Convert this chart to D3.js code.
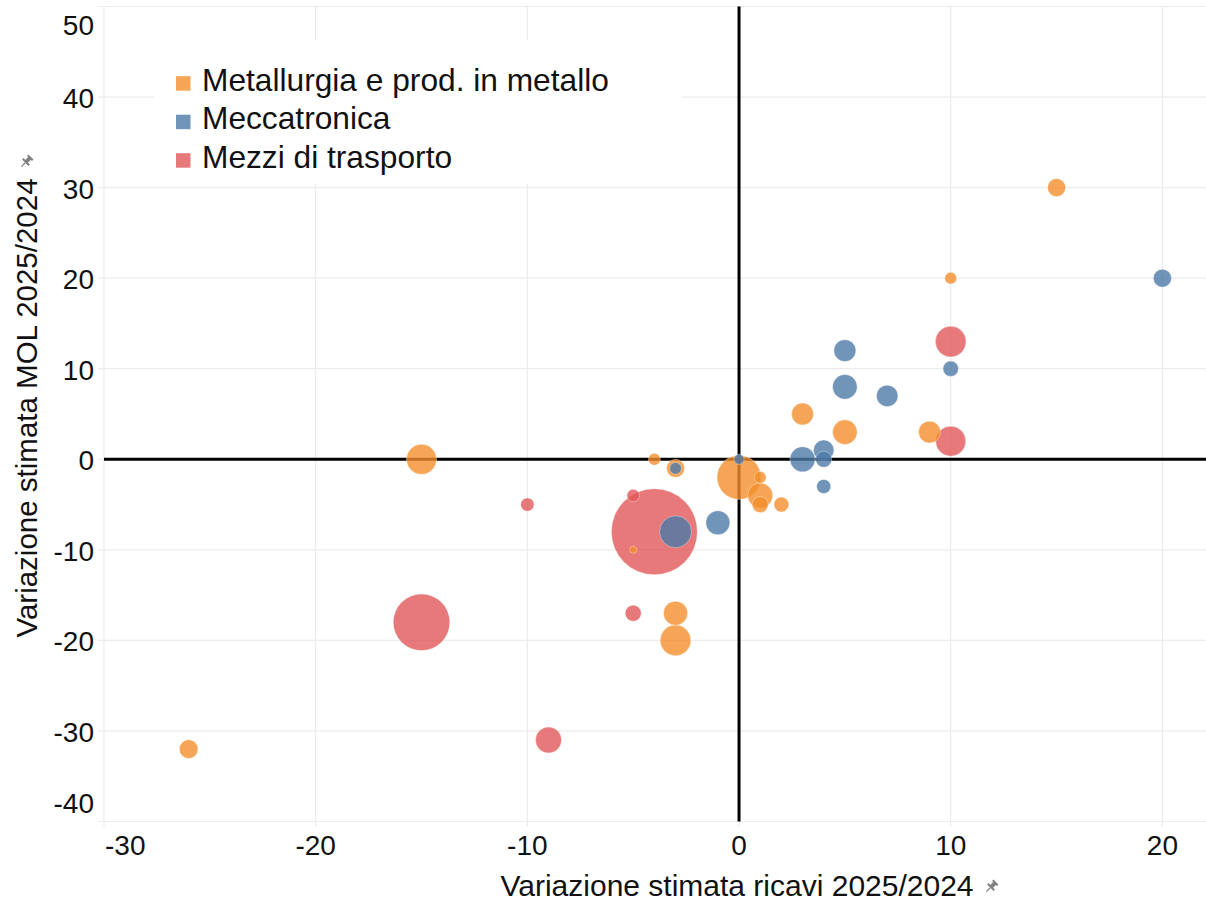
<!DOCTYPE html>
<html>
<head>
<meta charset="utf-8">
<script src="https://cdn.jsdelivr.net/npm/d3@7"></script>
<style>
  html, body { margin: 0; padding: 0; background: #ffffff; }
  svg { display: block; font-family: Arial, "Liberation Sans", sans-serif; }
</style>
</head>
<body>
<svg id="chart" width="1206" height="903"></svg>
<script>
// ---------- data ----------
const categories = ["Metallurgia e prod. in metallo", "Meccatronica", "Mezzi di trasporto"];
const colors = ["#F28E2B", "#4E79A7", "#E15759"];

const xTicks = [-30, -20, -10, 0, 10, 20];
const yTicks = [-40, -30, -20, -10, 0, 10, 20, 30, 40, 50];

// Metallurgia e prod. in metallo
const metRicavi = [15, 10, 3, 5, 9, -15, -4, -3, 0, 1, 1, 1, 2, -5, -3, -3, -26];
const metMol    = [30, 20, 5, 3, 3, 0, 0, -1, -2, -2, -4, -5, -5, -10, -17, -20, -32];
const metPeso   = [4.4, 1.9, 6.5, 8.2, 6.5, 12.2, 1.9, 4.4, 26.2, 1.9, 8.5, 3.5, 3.0, 0.7, 7.8, 12.7, 4.7];

// Meccatronica
const mecRicavi = [20, 5, 10, 5, 7, 4, 3, 4, 0, 4, -3, -1, -3];
const mecMol    = [20, 12, 10, 8, 7, 1, 0, 0, 0, -3, -1, -7, -8];
const mecPeso   = [4.4, 6.5, 3.2, 8.2, 6.2, 5.7, 8.5, 3.5, 1.4, 2.7, 1.9, 7.8, 13.8];

// Mezzi di trasporto
const mezRicavi = [10, 10, -5, -10, -4, -15, -5, -9];
const mezMol    = [13, 2, -4, -5, -8, -18, -17, -31];
const mezPeso   = [12.7, 12.2, 2.1, 2.4, 100, 43.3, 3.5, 9.1];

const xTitle = "Variazione stimata ricavi 2025/2024";
const yTitle = "Variazione stimata MOL 2025/2024";

// ---------- build records ----------
const seriesList = [
  [metRicavi, metMol, metPeso],
  [mecRicavi, mecMol, mecPeso],
  [mezRicavi, mezMol, mezPeso]
];
const points = [];
seriesList.forEach((s, ci) => {
  s[0].forEach((v, i) => points.push({ cat: ci, x: v, y: s[1][i], size: s[2][i] }));
});
points.sort((a, b) => b.size - a.size);

// ---------- layout ----------
const svg = d3.select("#chart");
const W = 1206, H = 903;
const plot = { left: 104, right: 1206, top: 6.5, bottom: 821.5 };

const x = d3.scaleLinear().domain([-30, 22.06]).range([plot.left, plot.right]);
const y = d3.scaleLinear().domain([-40, 50]).range([plot.bottom, plot.top]);
const r = d3.scaleSqrt().domain([0, 100]).range([0, 43]);
const color = d3.scaleOrdinal().domain(d3.range(categories.length)).range(colors);

svg.append("rect").attr("width", W).attr("height", H).attr("fill", "#ffffff");

const gridColor = "#ececec";

// horizontal grid
svg.append("g").selectAll("line").data(yTicks).join("line")
  .attr("x1", plot.left - 6).attr("x2", plot.right)
  .attr("y1", d => y(d)).attr("y2", d => y(d))
  .attr("stroke", gridColor).attr("stroke-width", 1.2);

// vertical grid
svg.append("g").selectAll("line").data(xTicks).join("line")
  .attr("x1", d => x(d)).attr("x2", d => x(d))
  .attr("y1", plot.top).attr("y2", plot.bottom + 5)
  .attr("stroke", gridColor).attr("stroke-width", 1.2);

// y tick labels
svg.append("g").selectAll("text").data(yTicks).join("text")
  .attr("x", 94)
  .attr("y", d => Math.max(34.5, Math.min(812.5, y(d) + 11)))
  .attr("text-anchor", "end")
  .attr("font-size", 28)
  .attr("fill", "#111")
  .text(d => d);

// x tick labels
svg.append("g").selectAll("text").data(xTicks).join("text")
  .attr("x", (d, i) => i === 0 ? x(d) + 1 : x(d))
  .attr("y", 855)
  .attr("text-anchor", (d, i) => i === 0 ? "start" : "middle")
  .attr("font-size", 28)
  .attr("fill", "#111")
  .text(d => d);

// zero lines
svg.append("line")
  .attr("x1", plot.left).attr("x2", plot.right)
  .attr("y1", y(0)).attr("y2", y(0))
  .attr("stroke", "#000").attr("stroke-width", 3);
svg.append("line")
  .attr("x1", x(0)).attr("x2", x(0))
  .attr("y1", plot.top).attr("y2", plot.bottom)
  .attr("stroke", "#000").attr("stroke-width", 3);

// legend background
svg.append("rect")
  .attr("x", 154).attr("y", 40).attr("width", 527).attr("height", 144)
  .attr("fill", "#ffffff");

// bubbles
svg.append("g").selectAll("circle").data(points).join("circle")
  .attr("cx", d => x(d.x))
  .attr("cy", d => y(d.y))
  .attr("r", d => r(d.size))
  .attr("fill", d => color(d.cat))
  .attr("fill-opacity", 0.8)
  .attr("stroke", "#ffffff")
  .attr("stroke-opacity", 0.35)
  .attr("stroke-width", 1);

// legend
const leg = svg.append("g").selectAll("g").data(categories).join("g")
  .attr("transform", (d, i) => `translate(176, ${90.7 + i * 38.5})`);
leg.append("rect")
  .attr("x", 0).attr("y", -14.5).attr("width", 14.5).attr("height", 14.5)
  .attr("fill", (d, i) => color(i)).attr("fill-opacity", 0.8);
leg.append("text")
  .attr("x", 26).attr("y", 0)
  .attr("font-size", 31.7)
  .attr("fill", "#111")
  .text(d => d);

// axis titles
svg.append("text")
  .attr("x", 737).attr("y", 896)
  .attr("text-anchor", "middle")
  .attr("font-size", 30)
  .attr("fill", "#111")
  .text(xTitle);

svg.append("text")
  .attr("transform", "translate(37, 408) rotate(-90)")
  .attr("text-anchor", "middle")
  .attr("font-size", 29.5)
  .attr("fill", "#111")
  .text(yTitle);

// pin icons
function pin(cx, cy) {
  const g = svg.append("g").attr("transform", `translate(${cx},${cy}) rotate(45)`).attr("fill", "#808080");
  g.append("rect").attr("x", -3.5).attr("y", -7).attr("width", 7).attr("height", 2);
  g.append("rect").attr("x", -2).attr("y", -5.5).attr("width", 4).attr("height", 5);
  g.append("rect").attr("x", -4.5).attr("y", -1).attr("width", 9).attr("height", 2);
  g.append("line").attr("x1", 0).attr("x2", 0).attr("y1", 1).attr("y2", 6.5)
    .attr("stroke", "#808080").attr("stroke-width", 1.2);
}
pin(991, 887);
pin(26, 162);
</script>
</body>
</html>
